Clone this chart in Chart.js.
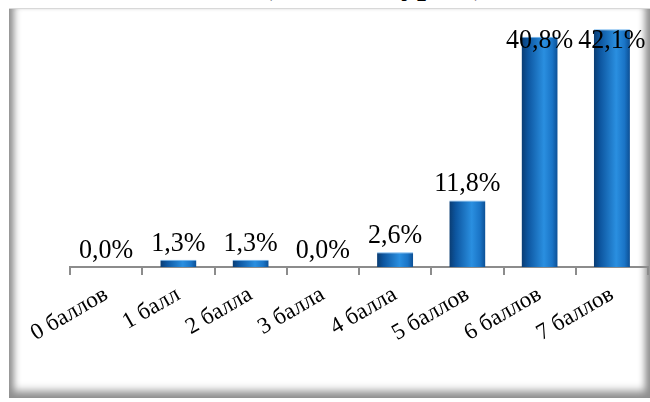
<!DOCTYPE html>
<html>
<head>
<meta charset="utf-8">
<script src="https://cdn.jsdelivr.net/npm/chart.js@4/dist/chart.umd.min.js"></script>
<style>
  html, body { margin: 0; padding: 0; background: #fff; }
  #wrap { position: relative; width: 650px; height: 402px; overflow: hidden; background: #fff; }
  #frame {
    position: absolute; left: 9px; top: 8px; width: 641px; height: 390px;
    border-top: 1px solid #d8d8d8; box-sizing: border-box;
    box-shadow: inset 10px 0 7px -5px #8f8f8f, inset -10px 0 7px -5px #8f8f8f, inset 0 -12px 8px -5px #8f8f8f;
  }
  #title {
    position: absolute; left: 262px; top: -33px; white-space: nowrap;
    font: bold 32px "Liberation Serif", serif; line-height: 32px; color: #000;
  }
  canvas { position: absolute; left: 0; top: 0; }
</style>
</head>
<body>
<div id="wrap">
  <div id="frame"></div>
  <div id="title">(все 1–4 курсы)</div>
  <canvas id="c" width="650" height="402"></canvas>
</div>
<script>
const categories = ["0 баллов", "1 балл", "2 балла", "3 балла", "4 балла", "5 баллов", "6 баллов", "7 баллов"];
const percentValues = [0.0, 1.3, 1.3, 0.0, 2.6, 11.8, 40.8, 42.1];

const FAMILY = "'Liberation Serif', serif";

const valueLabels = {
  id: 'valueLabels',
  afterDatasetsDraw(chart) {
    const ctx = chart.ctx;
    const meta = chart.getDatasetMeta(0);
    meta.data.forEach((bar, i) => {
      const txt = percentValues[i].toFixed(1).replace('.', ',') + '%';
      const y = Math.max(bar.y - 9, 48);
      ctx.save();
      ctx.font = '28px ' + FAMILY;
      ctx.fillStyle = '#000';
      ctx.textAlign = 'center';
      ctx.textBaseline = 'alphabetic';
      ctx.translate(bar.x, y);
      ctx.scale(0.93, 1);
      ctx.fillText(txt, 0, 0);
      ctx.restore();
    });
  }
};

function build() {
  new Chart(document.getElementById('c'), {
    type: 'bar',
    data: {
      labels: categories,
      datasets: [{
        data: percentValues,
        categoryPercentage: 1,
        barPercentage: 0.5,
        borderColor: '#6fb4ee',
        borderWidth: { top: 1, left: 0, right: 0, bottom: 0 },
        borderSkipped: 'bottom',
        backgroundColor: (c) => {
          const chart = c.chart;
          if (!chart.chartArea || !chart.scales.x) return '#1565b0';
          const xs = chart.scales.x;
          const cx = xs.getPixelForValue(c.dataIndex);
          const w = (xs.width / categories.length) * 0.5;
          const g = chart.ctx.createLinearGradient(cx - w / 2, 0, cx + w / 2, 0);
          g.addColorStop(0, '#0a3c72');
          g.addColorStop(0.18, '#0d56a0');
          g.addColorStop(0.62, '#2a8fe0');
          g.addColorStop(0.85, '#1a74c6');
          g.addColorStop(1, '#0c4f94');
          return g;
        }
      }]
    },
    options: {
      responsive: false,
      devicePixelRatio: 1,
      animation: false,
      layout: { padding: { left: 70, right: 2, top: 13, bottom: 0 } },
      plugins: { legend: { display: false }, tooltip: { enabled: false }, title: { display: false } },
      scales: {
        y: { display: false, min: 0, max: 45 },
        x: {
          afterFit: (s) => { s.height = 135; },
          border: { display: true, color: '#8c8c8c', width: 2 },
          grid: { display: true, drawOnChartArea: false, drawTicks: true, tickLength: 8, color: '#8c8c8c', lineWidth: 2, offset: true },
          ticks: {
            color: '#000', minRotation: 30, maxRotation: 30, padding: 6,
            font: { family: FAMILY, size: 23 }
          }
        }
      }
    },
    plugins: [valueLabels]
  });
}

Promise.all([
  document.fonts.load("23px 'Liberation Serif'", "0 баллов"),
  document.fonts.load("28px 'Liberation Serif'", "0,0%")
]).then(build, build);
</script>
</body>
</html>
